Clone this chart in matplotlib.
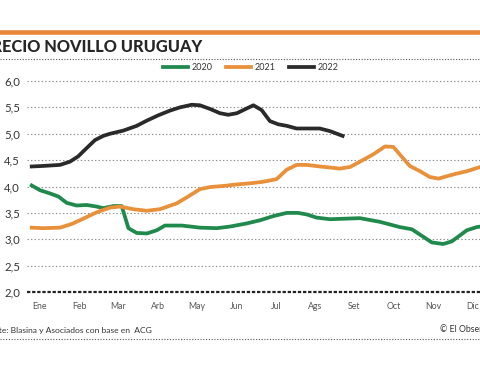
import matplotlib
matplotlib.use("Agg")
import matplotlib.pyplot as plt
from matplotlib.lines import Line2D

# ── Data (x = month position, 0 = Ene) ────────────────────────────────────────
months = ["Ene", "Feb", "Mar", "Arb", "May", "Jun", "Jul", "Ags", "Set", "Oct", "Nov", "Dic"]

x_2020 = [-0.21, 0.0, 0.25, 0.47, 0.68, 0.93, 1.19, 1.44, 1.61, 1.87, 2.08, 2.25, 2.46,
          2.72, 2.97, 3.18, 3.61, 4.07, 4.50, 4.83, 5.26, 5.60, 5.94, 6.28, 6.57, 6.79,
          7.04, 7.38, 8.14, 8.65, 9.16, 9.46, 9.97, 10.26, 10.48, 10.86, 11.11, 11.2]
y_2020 = [4.02, 3.93, 3.87, 3.81, 3.69, 3.64, 3.65, 3.62, 3.59, 3.63, 3.63, 3.21, 3.12,
          3.11, 3.17, 3.26, 3.26, 3.22, 3.21, 3.24, 3.30, 3.36, 3.44, 3.50, 3.50, 3.47,
          3.41, 3.38, 3.40, 3.33, 3.23, 3.19, 2.94, 2.91, 2.96, 3.17, 3.23, 3.24]

x_2021 = [-0.21, 0.08, 0.51, 0.81, 1.10, 1.44, 1.78, 2.04, 2.37, 2.72, 3.05, 3.48, 3.77,
          4.07, 4.33, 4.66, 5.01, 5.34, 5.68, 6.02, 6.28, 6.53, 6.79, 7.12, 7.63, 7.89,
          8.14, 8.48, 8.78, 8.99, 9.41, 9.67, 9.92, 10.14, 10.52, 10.86, 11.2]
y_2021 = [3.22, 3.21, 3.22, 3.29, 3.39, 3.51, 3.60, 3.62, 3.57, 3.54, 3.57, 3.68, 3.81,
          3.95, 3.99, 4.01, 4.04, 4.06, 4.09, 4.14, 4.32, 4.41, 4.41, 4.38, 4.34, 4.37,
          4.47, 4.61, 4.76, 4.75, 4.39, 4.29, 4.18, 4.15, 4.23, 4.29, 4.37]

x_2022 = [-0.21, 0.08, 0.51, 0.76, 0.97, 1.19, 1.40, 1.61, 1.78, 2.12, 2.46, 2.72, 3.01,
          3.31, 3.56, 3.86, 4.07, 4.33, 4.58, 4.79, 5.01, 5.26, 5.43, 5.64, 5.85, 6.06,
          6.28, 6.53, 6.79, 7.12, 7.38, 7.70]
y_2022 = [4.38, 4.39, 4.41, 4.47, 4.57, 4.73, 4.88, 4.96, 5.00, 5.06, 5.15, 5.25, 5.35,
          5.44, 5.50, 5.55, 5.54, 5.47, 5.39, 5.36, 5.39, 5.48, 5.54, 5.45, 5.24, 5.18,
          5.15, 5.10, 5.10, 5.10, 5.05, 4.96]

y_ticks = [2.0, 2.5, 3.0, 3.5, 4.0, 4.5, 5.0, 5.5, 6.0]

GREEN = "#1f8a4c"
ORANGE = "#e8903a"
BLACK = "#2a2a2a"
FONT = "Lato"

W, H = 480, 365
fig = plt.figure(figsize=(W / 100, H / 100), dpi=100)
fig.patch.set_facecolor("white")

# ── Header decorations ────────────────────────────────────────────────────────
fig.add_artist(Line2D([0, 1], [1 - 31.5 / H] * 2, color="#e8873a", lw=3.3))
fig.text(202 / W, 1 - 52.5 / H, "PRECIO NOVILLO URUGUAY", ha="right", va="baseline",
         fontsize=11.8, fontweight="black", color="#262626", family=FONT)
fig.add_artist(Line2D([0, 1], [1 - 58.5 / H] * 2, color="#555555", lw=0.8,
                      ls=(0, (1, 1.5))))

# ── Chart ─────────────────────────────────────────────────────────────────────
ax = fig.add_axes([27 / W, (H - 292) / H, (W - 27) / W, (292 - 74.7) / H])
ax.set_xlim(-0.33, 11.196)
ax.set_ylim(2.0, 6.12)

for yv in y_ticks[1:]:
    ax.axhline(yv, color="#8a8a8a", lw=0.8, ls=(0, (1.2, 2)), zorder=1)
ax.axhline(2.0, color="#222222", lw=1.6, ls=(0, (1.5, 0.8)), zorder=1, clip_on=False)

ax.plot(x_2020, y_2020, color=GREEN, lw=2.7, solid_joinstyle="round", zorder=3, label="2020")
ax.plot(x_2021, y_2021, color=ORANGE, lw=2.7, solid_joinstyle="round", zorder=3, label="2021")
ax.plot(x_2022, y_2022, color=BLACK, lw=2.7, solid_joinstyle="round", zorder=3, label="2022")

ax.set_yticks(y_ticks)
ax.set_yticklabels([f"{v:.1f}".replace(".", ",") for v in y_ticks],
                   fontsize=8.2, color="#333333", family=FONT)
ax.set_xticks(range(len(months)))
ax.set_xticklabels(months, fontsize=6.3, color="#555555", family=FONT)
ax.tick_params(axis="y", length=0, pad=5)
ax.tick_params(axis="x", length=0, pad=7)
for s in ax.spines.values():
    s.set_visible(False)

leg = ax.legend(loc="center", bbox_to_anchor=(251 / W, 1 - 68 / H),
                bbox_transform=fig.transFigure, ncol=3, frameon=False,
                prop={"family": FONT, "size": 6.5}, handlelength=2.7,
                handletextpad=0.45, columnspacing=1.5)
for t in leg.get_texts():
    t.set_color("#333333")

# ── Footer ────────────────────────────────────────────────────────────────────
fig.text(152 / W, 1 - 330 / H, "Fuente: Blasina y Asociados con base en  ACG",
         ha="right", va="center", fontsize=6.1, color="#333333", family=FONT)
fig.text(440 / W, 1 - 330 / H, "© El Observador", ha="left", va="center",
         fontsize=6.3, color="#333333", family=FONT)
fig.add_artist(Line2D([0, 1], [1 - 338.5 / H] * 2, color="#555555", lw=0.8,
                      ls=(0, (1, 1.5))))

fig.savefig("out.png", dpi=100, facecolor="white")
